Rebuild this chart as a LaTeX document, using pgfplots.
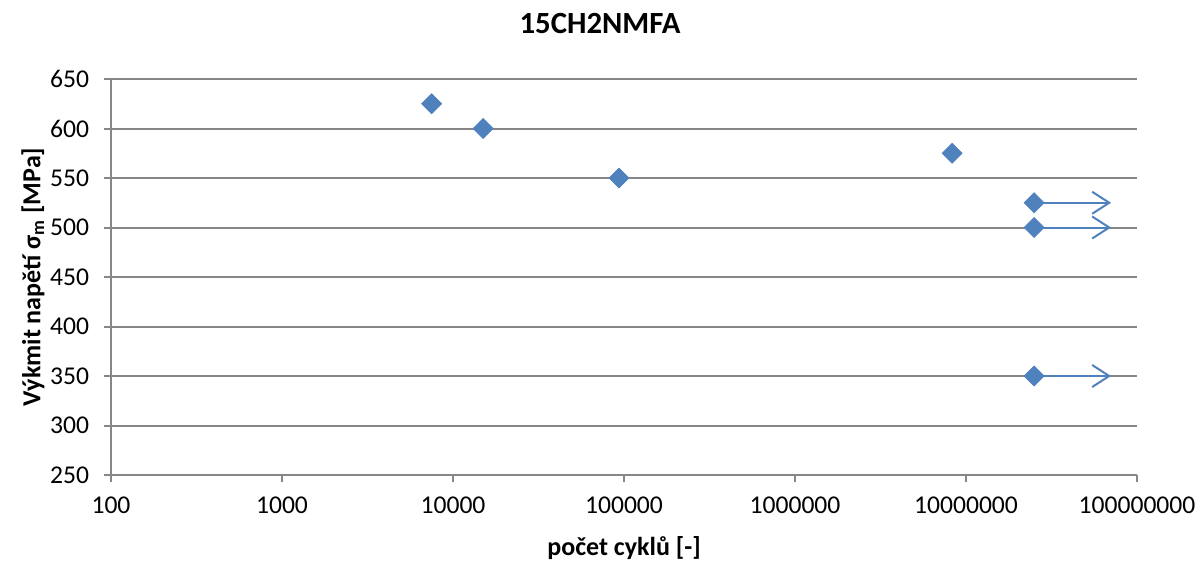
\documentclass[border=0pt]{standalone}
\usepackage{fontspec}
\setmainfont{Carlito}
\usepackage{pgfplots}
\pgfplotsset{compat=1.18}
\usetikzlibrary{arrows.meta}
\definecolor{mblue}{HTML}{4F81BD}
\definecolor{gridgray}{HTML}{878787}
\begin{document}
\begin{tikzpicture}
\begin{axis}[
  name=ax, at={(0,0)}, anchor=south west,
  scale only axis, width=513pt, height=198pt,
  xmode=log, log basis x=10,
  xmin=100, xmax=1e8, ymin=250, ymax=650,
  xtick={1e2,1e3,1e4,1e5,1e6,1e7,1e8},
  xticklabels={100,1000,10000,100000,1000000,10000000,100000000},
  ytick={250,300,...,650},
  minor xtick={}, 
  axis x line*=bottom, axis y line*=left,
  axis line style={gridgray, line width=1pt, -},
  tick style={gridgray, line width=1pt},
  tick align=outside, major tick length=3.5pt,
  ymajorgrids, major grid style={gridgray, line width=1pt},
  /pgf/number format/assume math mode=true,
  ticklabel style={font=\fontsize{12.8}{14}\selectfont, text=black},
  xticklabel style={yshift=-4pt},
  yticklabel style={xshift=-4pt},
  title={\textbf{15CH2NMFA}},
  title style={font=\fontsize{15.4}{18}\selectfont, at={(axis description cs:0.4766,1.111)}, anchor=center},
  xlabel={\textbf{počet cyklů [-]}},
  xlabel style={font=\fontsize{13}{15}\selectfont, at={(axis description cs:0.5,-0.184)}, anchor=center},
  ylabel={\textbf{Výkmit napětí σ\textsubscript{m} [MPa]}},
  ylabel style={font=\fontsize{13}{15}\selectfont, at={(axis description cs:-0.076,0.5)}, anchor=center, rotate=0},
  clip=false,
]
\addplot[mblue, line width=1pt, -{Straight Barb[length=8.5pt,width=11pt,line width=1pt]}] coordinates {(2.5e7,525) (7.05e7,525)};
\addplot[mblue, line width=1pt, -{Straight Barb[length=8.5pt,width=11pt,line width=1pt]}] coordinates {(2.5e7,500) (7.05e7,500)};
\addplot[mblue, line width=1pt, -{Straight Barb[length=8.5pt,width=11pt,line width=1pt]}] coordinates {(2.5e7,350) (7.05e7,350)};
\addplot[only marks, mark=square*, mark size=3.5pt, mark options={rotate=45, fill=mblue, draw=mblue}] coordinates {
(7500,625) (15000,600) (93500,550) (8.3e6,575) (2.5e7,525) (2.5e7,500) (2.5e7,350)
};
\end{axis}
\pgfresetboundingbox
\path[use as bounding box] (-55.5pt,-44pt) rectangle (544.5pt,237.5pt);
\end{tikzpicture}
\end{document}
